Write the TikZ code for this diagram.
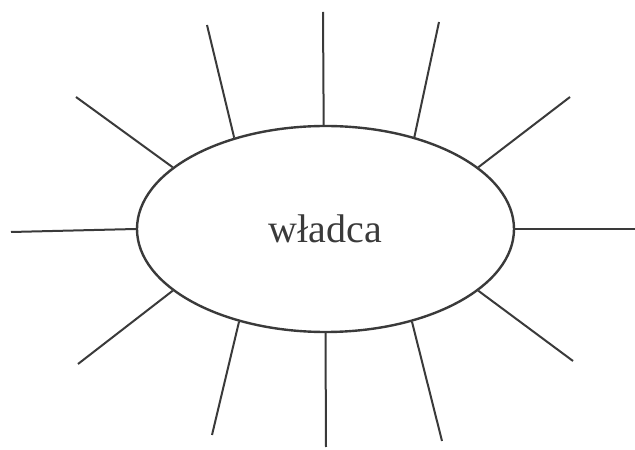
\documentclass[tikz,border=0pt]{standalone}
\usepackage{fontspec}
\setmainfont{Liberation Serif}
\usetikzlibrary{shapes.geometric}
\definecolor{ink}{HTML}{3A3A3A}
\tikzset{
  ray/.style={draw=ink, line width=2pt},
  hub/.style={ellipse, draw=ink, line width=2.4pt, minimum width=377pt, minimum height=206pt, inner sep=0pt, text=ink, font=\fontsize{40}{44}\selectfont}
}
\begin{document}
\begin{tikzpicture}[x=1pt,y=1pt]
\useasboundingbox (0,0) rectangle (635,450);
\node[hub] (c) at (325.5,221) {władca};
\coordinate (o1) at (76,353);
\coordinate (o2) at (207,425);
\coordinate (o3) at (323,438);
\coordinate (o4) at (439,428);
\coordinate (o5) at (570,353);
\coordinate (o6) at (11,218);
\coordinate (o7) at (635,221);
\coordinate (o8) at (78,86);
\coordinate (o9) at (212,15);
\coordinate (o10) at (326,3);
\coordinate (o11) at (442,9);
\coordinate (o12) at (573,89);
\draw[ray] (c.158) -- (o1);
\draw[ray] (c.135) -- (o2);
\draw[ray] (c.91) -- (o3);
\draw[ray] (c.46) -- (o4);
\draw[ray] (c.22.4) -- (o5);
\draw[ray] (c.180) -- (o6);
\draw[ray] (c.0) -- (o7);
\draw[ray] (c.202) -- (o8);
\draw[ray] (c.227) -- (o9);
\draw[ray] (c.270) -- (o10);
\draw[ray] (c.313.6) -- (o11);
\draw[ray] (c.338) -- (o12);
\end{tikzpicture}
\end{document}
